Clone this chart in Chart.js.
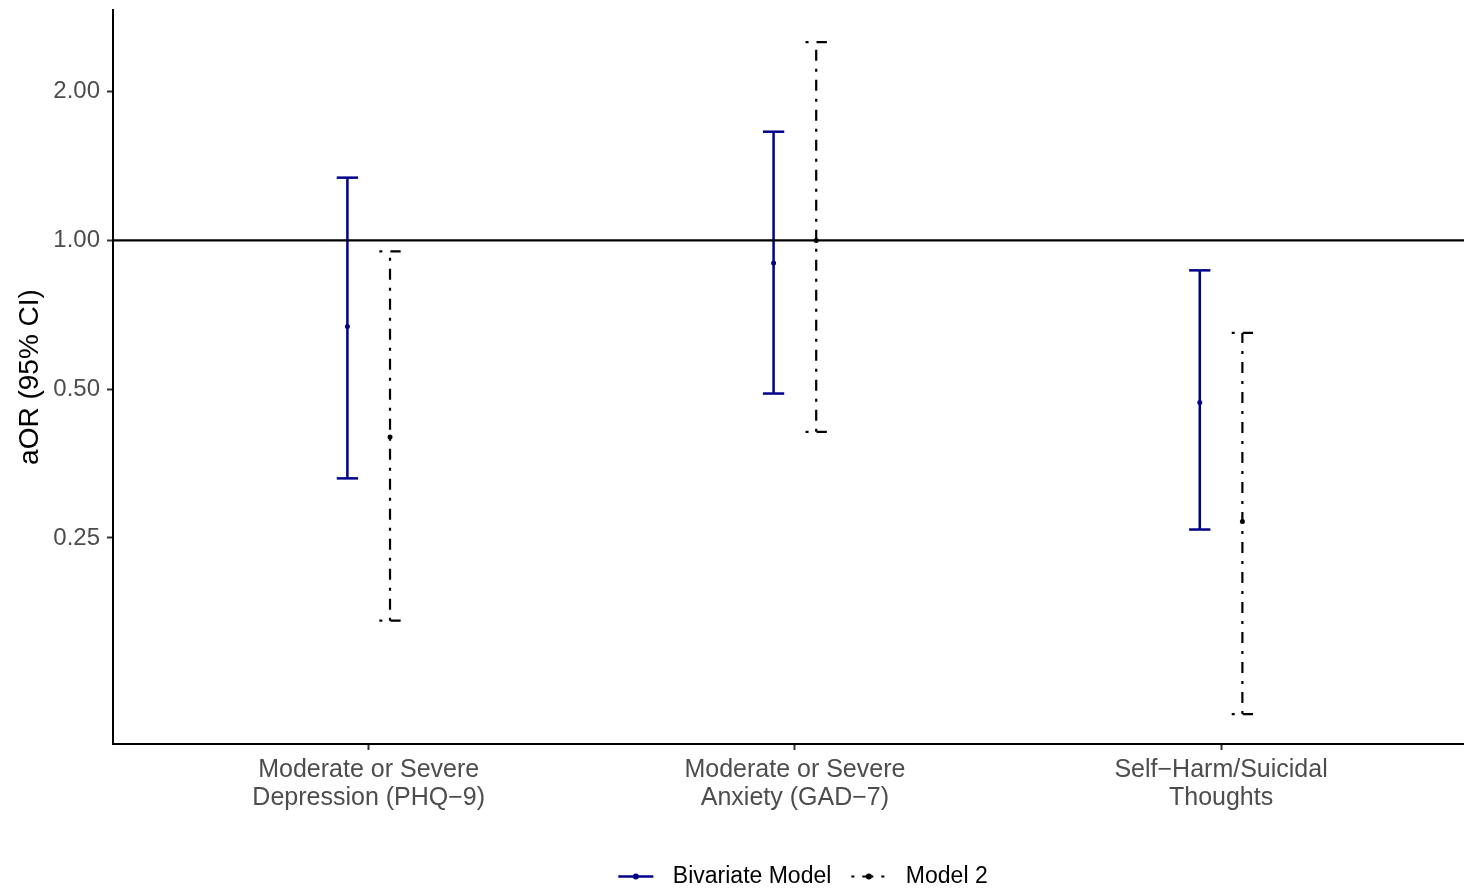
<!DOCTYPE html>
<html>
<head>
<meta charset="utf-8">
<script src="https://cdn.jsdelivr.net/npm/chart.js@4.4.1/dist/chart.umd.min.js"></script>
<style>
html, body { margin: 0; padding: 0; background: #fff; overflow: hidden; }
</style>
</head>
<body>
<canvas id="chart" width="1464" height="889"></canvas>
<script>
const categories = [
    ["Moderate or Severe", "Depression (PHQ\u22129)"],
    ["Moderate or Severe", "Anxiety (GAD\u22127)"],
    ["Self\u2212Harm/Suicidal", "Thoughts"]
];
const catPos = [1, 2, 3];
const bivEst = [0.67, 0.90, 0.47];
const bivLow = [0.33, 0.49, 0.26];
const bivHigh = [1.34, 1.66, 0.87];
const m2Est = [0.40, 1.00, 0.27];
const m2Low = [0.17, 0.41, 0.11];
const m2High = [0.95, 2.52, 0.65];
const yTicks = [0.25, 0.5, 1, 2];
const refValue = 1;

const FONT = "'Liberation Sans', Arial, sans-serif";
const DODGE = 0.05, CAP = 0.025;
const LEGEND_SHIFT = 71, KEY_LEN = 35;

const models = [
    { label: "Bivariate Model", est: bivEst, low: bivLow, high: bivHigh, offset: -DODGE, color: "#00008B", dash: [], width: 2.5 },
    { label: "Model 2", est: m2Est, low: m2Low, high: m2High, offset: DODGE, color: "#000000", dash: [3, 8, 11, 8], width: 2.2 }
];

const datasets = [];
// horizontal reference line at aOR = 1
datasets.push({ type: 'line', data: [{ x: 0, y: refValue }, { x: 4, y: refValue }], borderColor: '#000', borderWidth: 2.2, pointRadius: 0 });

models.forEach(m => {
    const seg = pts => ({ type: 'line', data: pts, borderColor: m.color, borderWidth: m.width, borderDash: m.dash, pointRadius: 0, fill: false });
    catPos.forEach((c, i) => {
        const x = c + m.offset;
        datasets.push(seg([{ x, y: m.low[i] }, { x, y: m.high[i] }]));
        datasets.push(seg([{ x: x - CAP, y: m.high[i] }, { x: x + CAP, y: m.high[i] }]));
        datasets.push(seg([{ x: x - CAP, y: m.low[i] }, { x: x + CAP, y: m.low[i] }]));
    });
    datasets.push({ type: 'scatter', data: catPos.map((c, i) => ({ x: c + m.offset, y: m.est[i] })), pointRadius: 2.5, backgroundColor: m.color, borderColor: m.color, borderWidth: 0 });
});

// legend: shift it right like the original, draw key lines with a dot
const legendKeys = {
    id: 'legendKeys',
    afterUpdate(chart) {
        const lg = chart.legend;
        if (!lg) return;
        lg.left += LEGEND_SHIFT;
        lg.right += LEGEND_SHIFT;
        lg.legendHitBoxes.forEach(b => { b.left += LEGEND_SHIFT; });
    },
    afterDraw(chart) {
        const lg = chart.legend;
        if (!lg || !lg.legendHitBoxes) return;
        const ctx = chart.ctx;
        lg.legendHitBoxes.forEach((b, i) => {
            const m = models[i];
            const y = b.top + b.height / 2;
            ctx.save();
            ctx.strokeStyle = m.color;
            ctx.lineWidth = m.width;
            ctx.setLineDash(m.dash);
            ctx.beginPath();
            ctx.moveTo(b.left, y);
            ctx.lineTo(b.left + KEY_LEN, y);
            ctx.stroke();
            ctx.fillStyle = m.color;
            ctx.beginPath();
            ctx.arc(b.left + KEY_LEN / 2, y, 3, 0, Math.PI * 2);
            ctx.fill();
            ctx.restore();
        });
    }
};

new Chart(document.getElementById('chart'), {
    type: 'line',
    data: { datasets },
    plugins: [legendKeys],
    options: {
        responsive: false,
        animation: false,
        layout: { autoPadding: false, padding: { top: 0, left: 0, right: 0, bottom: -9 } },
        plugins: {
            tooltip: { enabled: false },
            legend: {
                position: 'bottom',
                onClick: null,
                labels: {
                    usePointStyle: true,
                    pointStyleWidth: 43,
                    padding: 20,
                    font: { family: FONT, size: 23 },
                    color: '#000',
                    generateLabels: () => models.map(m => ({
                        text: m.label, pointStyle: 'line', strokeStyle: 'rgba(0,0,0,0)', fillStyle: 'rgba(0,0,0,0)',
                        lineWidth: 1, hidden: false, fontColor: '#000'
                    }))
                }
            }
        },
        scales: {
            x: {
                type: 'linear',
                min: 0.4,
                max: 3.57,
                afterBuildTicks: s => { s.ticks = catPos.map(v => ({ value: v })); },
                afterFit: s => { s.height = 101; s.paddingLeft = 0; s.paddingRight = 0; },
                ticks: {
                    callback: v => categories[catPos.indexOf(v)],
                    font: { family: FONT, size: 25, lineHeight: 1.12 },
                    color: '#4d4d4d',
                    padding: 6,
                    maxRotation: 0,
                    autoSkip: false
                },
                grid: { drawOnChartArea: false, tickLength: 6, tickColor: '#333', tickWidth: 2 },
                border: { color: '#000', width: 2 }
            },
            y: {
                type: 'logarithmic',
                min: 0.0957,
                max: 2.927,
                afterBuildTicks: s => { s.ticks = yTicks.map(v => ({ value: v })); },
                afterFit: s => { s.width = 113; s.paddingTop = 10; s.paddingBottom = 0; },
                ticks: {
                    callback: v => Number(v).toFixed(2),
                    font: { family: FONT, size: 24 },
                    color: '#4d4d4d',
                    padding: 7
                },
                grid: { drawOnChartArea: false, tickLength: 6, tickColor: '#333', tickWidth: 2 },
                border: { color: '#000', width: 2 },
                title: {
                    display: true,
                    text: 'aOR (95% CI)',
                    color: '#000',
                    font: { family: FONT, size: 28, lineHeight: 1.2 },
                    padding: { top: 13, bottom: 0 }
                }
            }
        }
    }
});
</script>
</body>
</html>
